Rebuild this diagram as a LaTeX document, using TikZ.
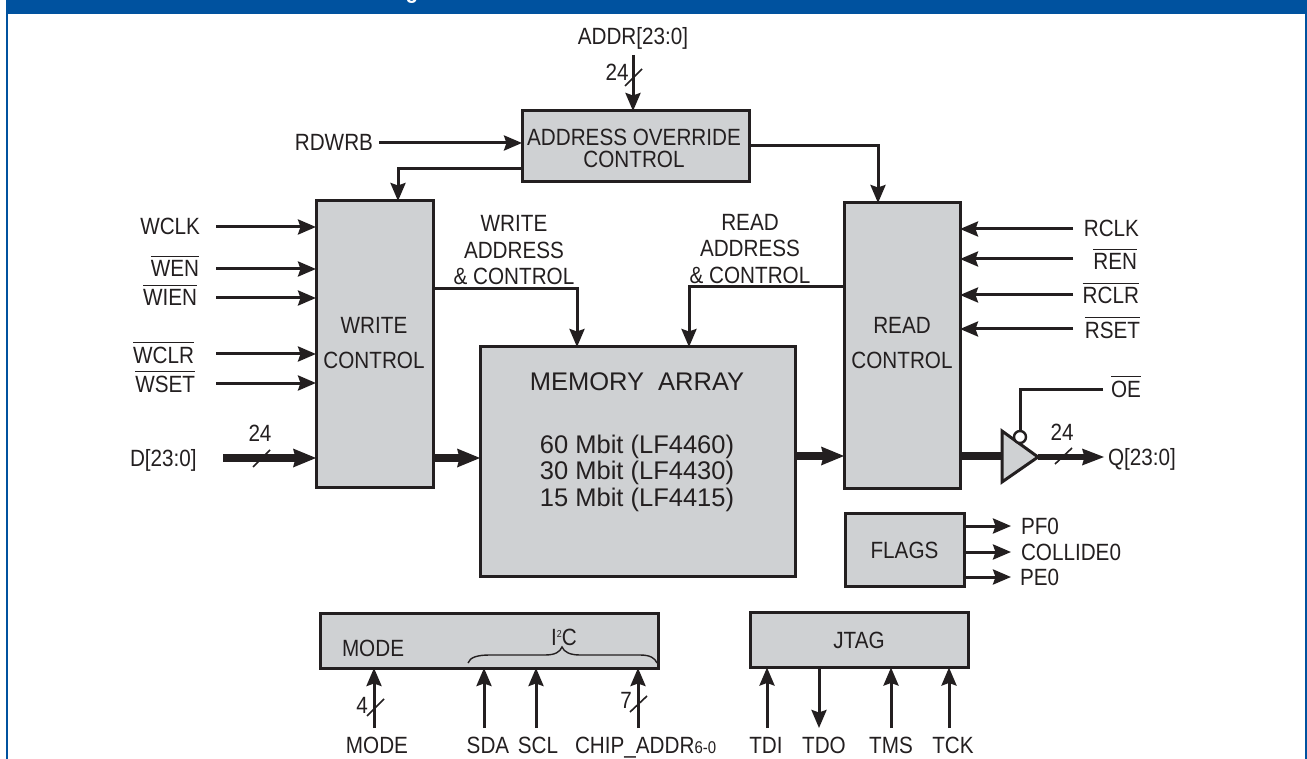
\documentclass[tikz,border=0pt]{standalone}
\usepackage{fontspec}
\setmainfont[FakeStretch=0.88]{Liberation Sans}
\newfontfamily\memfont{Liberation Sans}
\usetikzlibrary{arrows.meta,calc}
\definecolor{ink}{HTML}{231F20}
\definecolor{boxgray}{HTML}{CFD1D3}
\definecolor{hdr}{HTML}{00529F}
\newcommand{\ovl}[1]{\leavevmode\vbox{\hrule height 1.1pt\kern 3.6pt\hbox{#1}}}
\tikzset{
  blockbox/.style={draw=ink,fill=boxgray,line width=3pt,inner sep=0pt,outer sep=0pt,align=center,text=ink,font=\fontsize{23.5}{24}\selectfont},
  lbl/.style={inner sep=0pt,outer sep=0pt,text=ink,yshift=-0.5pt,font=\fontsize{23.5}{24}\selectfont},
  sig/.style={draw=ink,line width=3pt,-{Stealth[length=18pt,width=15pt,inset=2.5pt]}},
  plainw/.style={draw=ink,line width=3pt},
  bus/.style={draw=ink,line width=8.5pt,-{Stealth[length=23pt,width=19pt,inset=2.5pt,line width=0pt]}},
  slash/.style={draw=ink,line width=1.6pt},
}
\begin{document}
\begin{tikzpicture}[x=1pt,y=-1pt]
\useasboundingbox (0,0) rectangle (1307,759);
\fill[white] (0,0) rectangle (1307,759);
\fill[hdr] (6,0) rectangle (1307,14.5);
\draw[hdr,line width=2pt] (7,14) -- (7,759);
\draw[hdr,line width=2pt] (1305.5,14) -- (1305.5,759);
\begin{scope}
\clip (0,0) rectangle (1307,14.5);
\node[anchor=base,inner sep=0pt,text=white,font=\fontsize{23.5}{24}\selectfont\bfseries] (titlefrag) at (412,-1) {g};
\end{scope}

% blocks
\node[blockbox,minimum width=227pt,minimum height=71pt] (addr) at (635.5,146.5) {};
\node[blockbox,minimum width=117pt,minimum height=286pt] (write) at (374.5,344) {};
\node[blockbox,minimum width=116pt,minimum height=285pt] (read) at (902,345.5) {};
\node[blockbox,minimum width=315pt,minimum height=229pt] (mem) at (637.5,461.5) {};
\node[blockbox,minimum width=119pt,minimum height=73pt] (flags) at (904.5,550) {FLAGS};
\node[blockbox,minimum width=338pt,minimum height=55pt] (modeb) at (489,640.5) {};
\node[blockbox,minimum width=218pt,minimum height=55pt] (jtag) at (859,640) {JTAG};

% block texts
\node[lbl,anchor=base] (t1) at (634,145.5) {ADDRESS OVERRIDE};
\node[lbl,anchor=base] (t2) at (634,167.5) {CONTROL};
\node[lbl,anchor=base] (t3) at (374,333.5) {WRITE};
\node[lbl,anchor=base] (t4) at (374,368.5) {CONTROL};
\node[lbl,anchor=base] (t5) at (902,333.5) {READ};
\node[lbl,anchor=base] (t6) at (902,368.5) {CONTROL};
\begin{scope}[every node/.append style={lbl,anchor=base,font=\memfont\fontsize{25.5}{26}\selectfont}]
\node (m1) at (637,390) {MEMORY\ \ ARRAY};
\node (m2) at (637,453) {60 Mbit (LF4460)};
\node (m3) at (637,479) {30 Mbit (LF4430)};
\node (m4) at (637,506) {15 Mbit (LF4415)};
\end{scope}
\node[lbl,anchor=base west] (t7) at (342,655.5) {MODE};
\node[lbl,anchor=base] (i2c) at (564,644.5) {I\raisebox{8pt}{\fontsize{10}{10}\selectfont 2}C};
\draw[ink,line width=1.4pt] (468,663) .. controls (470,657) and (478,655) .. (490,655) -- (545,655) .. controls (555,655) and (560,652) .. (562,647) .. controls (564,652) and (570,655) .. (580,655) -- (640,655) .. controls (650,655) and (655,658) .. (657,663);

% top
\node[lbl,anchor=base] (addrl) at (633,44.5) {ADDR[23:0]};
\coordinate (addrS) at (633,55);
\draw[sig] (addrS) -- (addrS |- addr.north);
\node[lbl,anchor=base] (n24a) at (617,80.5) {24};
\draw[slash] (625,86) -- (642,69);
\node[lbl,anchor=base east] (rdwrb) at (373,150.5) {RDWRB};
\coordinate (rdS) at (379,143);
\draw[sig] (rdS) -- (rdS -| addr.west);
\coordinate (aoW) at (522,169);
\draw[sig] (aoW) -| (398,201);
\coordinate (aoE) at (749,146);
\draw[sig] (aoE) -| (878,203);

% left inputs
\node[lbl,anchor=base east] (wclk) at (200,234.5) {WCLK};
\node[lbl,anchor=base east] (wen) at (199,276.5) {\ovl{WEN}};
\node[lbl,anchor=base east] (wien) at (197,305.5) {\ovl{WIEN}};
\node[lbl,anchor=base east] (wclr) at (194,362.5) {\ovl{WCLR}};
\node[lbl,anchor=base east] (wset) at (195,391.5) {\ovl{WSET}};
\foreach \n/\yy in {a/227,b/269,c/298,d/354,e/383}{
  \coordinate (w\n) at (216,\yy);
  \draw[sig] (w\n) -- (w\n -| write.west);
}
\node[lbl,anchor=base west] (dlab) at (130,465.5) {D[23:0]};
\node[lbl,anchor=base] (n24d) at (260,440.5) {24};
\coordinate (dS) at (223,458);
\draw[bus] (dS) -- (dS -| write.west);
\draw[slash] (253,467) -- (270,450);
\coordinate (wmS) at (435,458);
\draw[bus] (wmS) -- (wmS -| mem.west);
\coordinate (mrS) at (796,456);
\draw[bus] (mrS) -- (mrS -| read.west);

% write/read address
\node[lbl,anchor=base] (wa1) at (514,231.5) {WRITE};
\node[lbl,anchor=base] (wa2) at (514,258.5) {ADDRESS};
\node[lbl,anchor=base] (wa3) at (514,284.5) {\& CONTROL};
\node[lbl,anchor=base] (ra1) at (750,230.5) {READ};
\node[lbl,anchor=base] (ra2) at (750,256.5) {ADDRESS};
\node[lbl,anchor=base] (ra3) at (750,283.5) {\& CONTROL};
\coordinate (wcS) at (433,289);
\draw[sig] (wcS) -| (577,347);
\coordinate (rcS) at (844,287);
\draw[sig] (rcS) -| (689,347);

% right inputs
\node[lbl,anchor=base east] (rclk) at (1139,236.5) {RCLK};
\node[lbl,anchor=base east] (ren) at (1137,269.5) {\ovl{REN}};
\node[lbl,anchor=base east] (rclr) at (1139,303.5) {\ovl{RCLR}};
\node[lbl,anchor=base east] (rset) at (1140,337.5) {\ovl{RSET}};
\foreach \n/\yy in {a/229,b/259,c/295,d/329}{
  \coordinate (r\n) at (1073,\yy);
  \draw[sig] (r\n) -- (r\n -| read.east);
}

% tristate output
\coordinate (bufW) at (1001,456);
\coordinate (bufE) at (1038,457);
\coordinate (qE) at (1104,457);
\draw[draw=ink,line width=8.5pt] (read.east |- bufW) -- (bufW);
\draw[bus,line width=6pt,-{Stealth[length=22pt,width=17pt,inset=2.5pt,line width=0pt]}] (bufE) -- (qE);
\draw[draw=ink,fill=boxgray,line width=3pt,line join=miter] (1002,431) -- (bufE) -- (1002,482) -- cycle;
\node[circle,draw=ink,fill=white,line width=2.4pt,minimum size=12pt,inner sep=0pt] (bubble) at (1020,437) {};
\coordinate (oeS) at (1103,389);
\draw[plainw] (oeS) -| (bubble.north);
\node[lbl,anchor=base west] (oe) at (1111,396.5) {\ovl{OE}};
\node[lbl,anchor=base] (n24q) at (1062,439.5) {24};
\draw[slash] (1055,464) -- (1072,448);
\node[lbl,anchor=base west] (qlab) at (1108,464.5) {Q[23:0]};

% flags
\foreach \n/\yy in {a/526,b/552,c/577}{
  \coordinate (f\n) at (1011,\yy);
  \draw[sig] (f\n -| flags.east) -- (f\n);
}
\node[lbl,anchor=base west] (pf) at (1021,534) {PF0};
\node[lbl,anchor=base west] (col) at (1021,560) {COLLIDE0};
\node[lbl,anchor=base west] (pe) at (1020,585) {PE0};

% mode inputs
\foreach \n/\xx in {a/374,b/484,c/536,d/638}{
  \coordinate (b\n) at (\xx,728);
  \draw[sig] (b\n) -- (b\n |- modeb.south);
}
\node[lbl,anchor=base] (n4) at (362,712.5) {4};
\draw[slash] (367,716) -- (384,699);
\node[lbl,anchor=base] (n7) at (626,707.5) {7};
\draw[slash] (630,712) -- (647,696);
\node[lbl,anchor=base] (lm) at (377,752.5) {MODE};
\node[lbl,anchor=base] (lsda) at (488,752.5) {SDA};
\node[lbl,anchor=base] (lscl) at (538,752.5) {SCL};
\node[lbl,anchor=base west] (lchip) at (575,752.5) {CHIP\_ADDR{\fontsize{17}{17}\selectfont 6-0}};

% jtag pins
\coordinate (tdi) at (767,728);
\draw[sig] (tdi) -- (tdi |- jtag.south);
\coordinate (tdo) at (819,728);
\draw[sig] (tdo |- jtag.south) -- (tdo);
\coordinate (tms) at (891,728);
\draw[sig] (tms) -- (tms |- jtag.south);
\coordinate (tck) at (949,728);
\draw[sig] (tck) -- (tck |- jtag.south);
\node[lbl,anchor=base] (ltdi) at (766,752.5) {TDI};
\node[lbl,anchor=base] (ltdo) at (824,752.5) {TDO};
\node[lbl,anchor=base] (ltms) at (891,752.5) {TMS};
\node[lbl,anchor=base] (ltck) at (953,752.5) {TCK};
\end{tikzpicture}
\end{document}
